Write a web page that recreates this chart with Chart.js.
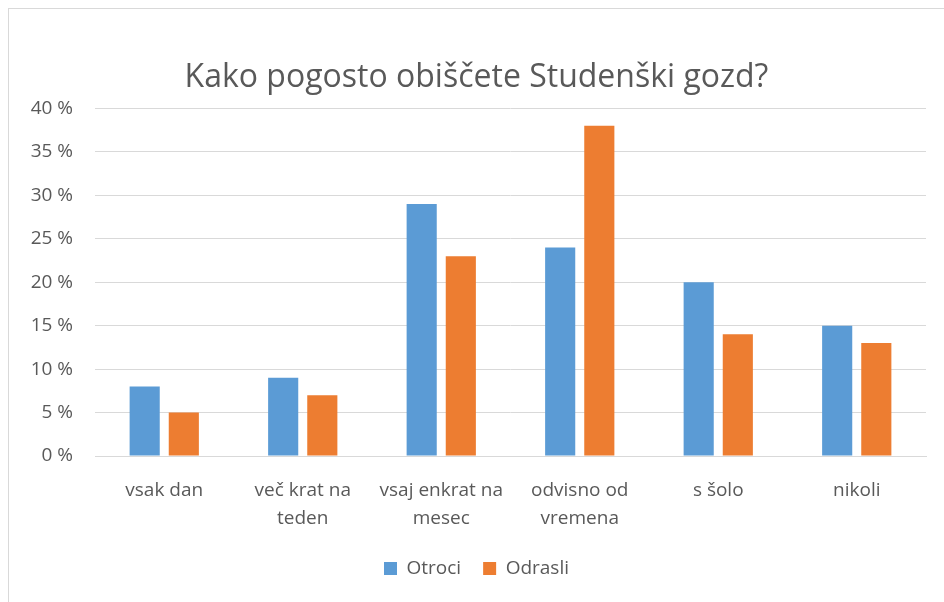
<!DOCTYPE html>
<html>
<head>
<meta charset="utf-8">
<script src="https://cdn.jsdelivr.net/npm/chart.js@4"></script>
<style>
  html, body { margin: 0; padding: 0; background: #fff; overflow: hidden; }
  #frame {
    position: absolute; left: 8px; top: 8px; width: 946px; height: 600px;
    border: 1px solid #d9d9d9; box-sizing: border-box; background: #fff;
  }
  #wrap { position: absolute; left: 0; top: 0; width: 944px; height: 598px; }
</style>
</head>
<body>
<div id="frame"><div id="wrap"><canvas id="chart"></canvas></div></div>
<script>
const categories = ["vsak dan", ["več krat na", "teden"], ["vsaj enkrat na", "mesec"], ["odvisno od", "vremena"], "s šolo", "nikoli"]
const otroci = [8, 9, 29, 24, 20, 15]
const odrasli = [5, 7, 23, 38, 14, 13]
const yTicks = [0, 5, 10, 15, 20, 25, 30, 35, 40]

const textColor = "#595959"
const font = "'Open Sans', 'Noto Sans', sans-serif"

const ctx = document.getElementById("chart")

new Chart(ctx, {
    type: "bar",
    data: {
        labels: categories,
        datasets: [{
            label: "Otroci",
            data: otroci,
            backgroundColor: "#5b9bd5"
        }, {
            label: "Odrasli",
            data: odrasli,
            backgroundColor: "#ed7d31"
        }]
    },
    options: {
        responsive: true,
        maintainAspectRatio: false,
        animation: false,
        categoryPercentage: 0.565,
        barPercentage: 0.77,
        layout: {
            padding: { top: 12, right: 27, left: 18, bottom: 19 }
        },
        scales: {
            x: {
                grid: { display: false },
                border: { color: "#d9d9d9", width: 1 },
                ticks: {
                    color: textColor,
                    font: { family: font, size: 19, lineHeight: 1.47 },
                    maxRotation: 0,
                    autoSkip: false,
                    padding: 13
                },
                afterFit: function(axis) {
                    axis.height = 81
                }
            },
            y: {
                min: 0,
                max: 40,
                afterBuildTicks: function(axis) {
                    axis.ticks = yTicks.map(v => ({ value: v }))
                },
                afterFit: function(axis) {
                    axis.width = 68
                },
                grid: { color: "#d9d9d9", lineWidth: 1, drawTicks: false },
                border: { display: false },
                ticks: {
                    color: textColor,
                    font: { family: font, size: 19 },
                    padding: 22,
                    callback: function(value) {
                        return value + " %"
                    }
                }
            }
        },
        plugins: {
            title: {
                display: true,
                text: "Kako pogosto obiščete Studenški gozd?",
                color: textColor,
                font: { family: font, size: 32, weight: "normal" },
                padding: { top: 38, bottom: 11 }
            },
            legend: {
                position: "bottom",
                labels: {
                    color: textColor,
                    font: { family: font, size: 19 },
                    boxWidth: 13,
                    boxHeight: 13,
                    padding: 22
                }
            },
            tooltip: { enabled: false }
        }
    }
})
</script>
</body>
</html>
